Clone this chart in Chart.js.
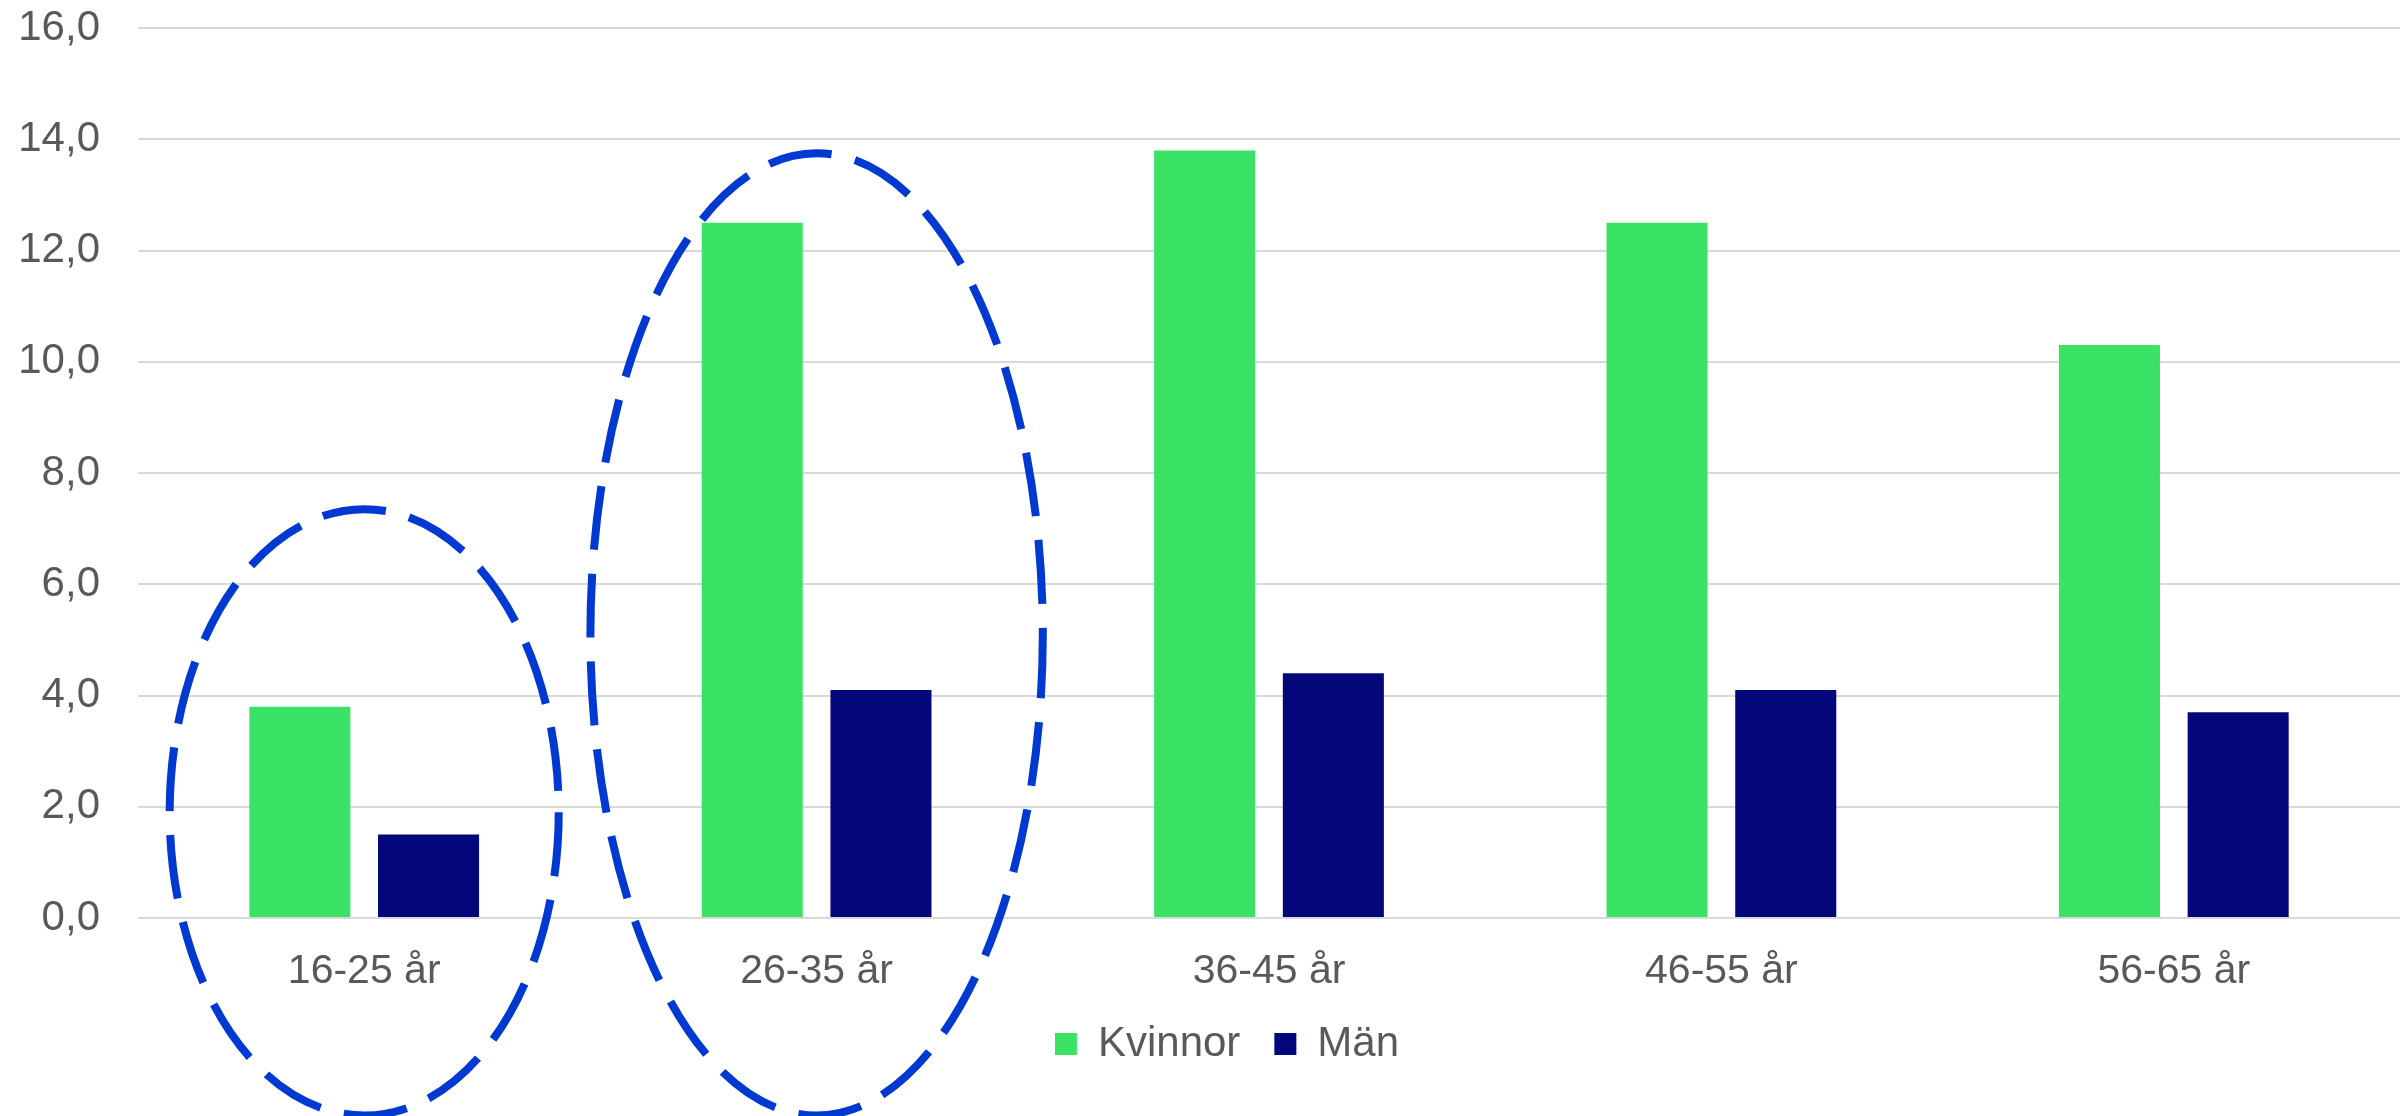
<!DOCTYPE html>
<html>
<head>
<meta charset="utf-8">
<script src="https://cdn.jsdelivr.net/npm/chart.js@4/dist/chart.umd.min.js"></script>
<style>
  html, body { margin: 0; padding: 0; background: #fff; }
  #wrap { width: 2400px; height: 1116px; }
</style>
</head>
<body>
<div id="wrap"><canvas id="chart"></canvas></div>
<script>
// DATA
const categories = ["16-25 år", "26-35 år", "36-45 år", "46-55 år", "56-65 år"];
const kvinnor = [3.8, 12.5, 13.8, 12.5, 10.3];
const man = [1.5, 4.1, 4.4, 4.1, 3.7];
const yTicks = [0, 2, 4, 6, 8, 10, 12, 14, 16];

// dashed rings around the first two groups (category index, centre value, half height in values, half width in categories)
const ringCategory = [0, 1];
const ringCentre = [1.9, 5.1];
const ringHalfHeight = [5.45, 8.65];
const ringHalfWidth = [0.43, 0.5];

Chart.defaults.font.family = "'Liberation Sans', Arial, sans-serif";
Chart.defaults.font.size = 42;
Chart.defaults.color = "#595959";

const rings = {
  id: "rings",
  afterLayout(chart) {
    // nudge legend a bit to the right like the original
    chart.legend.left += 20;
    chart.legend.right += 20;
    // let the x labels spill below the axis box
    chart.scales.x.bottom = chart.height;
  },
  afterDraw(chart) {
    const ctx = chart.ctx;
    const x = chart.scales.x;
    const y = chart.scales.y;
    const catW = x.getPixelForValue(1) - x.getPixelForValue(0);
    const unit = y.getPixelForValue(0) - y.getPixelForValue(1);
    ctx.save();
    ctx.strokeStyle = "#0039d2";
    ctx.lineWidth = 8;
    ctx.setLineDash([64, 24]);
    ringCategory.forEach((c, i) => {
      ctx.beginPath();
      ctx.ellipse(
        x.getPixelForValue(c),
        y.getPixelForValue(ringCentre[i]),
        ringHalfWidth[i] * catW,
        ringHalfHeight[i] * unit,
        0, 0, Math.PI * 2
      );
      ctx.stroke();
    });
    ctx.restore();
  },
};

let ctx = document.getElementById("chart").getContext("2d");
new Chart(ctx, {
  type: "bar",
  data: {
    labels: categories,
    datasets: [
      {
        label: "Kvinnor",
        data: kvinnor,
        backgroundColor: "#3ae366",
        categoryPercentage: 0.569,
        barPercentage: 0.785,
      },
      {
        label: "Män",
        data: man,
        backgroundColor: "#03077a",
        categoryPercentage: 0.569,
        barPercentage: 0.785,
      },
    ],
  },
  options: {
    responsive: true,
    maintainAspectRatio: false,
    devicePixelRatio: 1,
    animation: false,
    layout: { padding: { left: 14, right: 0, top: 28, bottom: 41 } },
    plugins: {
      tooltip: { enabled: false },
      legend: {
        position: "bottom",
        labels: { boxWidth: 22, boxHeight: 22, padding: 34 },
      },
    },
    scales: {
      x: {
        grid: { display: false, drawTicks: false },
        border: { display: false },
        ticks: { padding: 29, font: { size: 41 } },
        afterFit: (axis) => {
          axis.height = 71;
          axis.paddingLeft = 0;
          axis.paddingRight = 0;
        },
      },
      y: {
        min: 0,
        max: 16,
        afterBuildTicks: (axis) => {
          axis.ticks = yTicks.map((v) => ({ value: v }));
        },
        afterFit: (axis) => {
          axis.width = 124;
          axis.paddingTop = 0;
          axis.paddingBottom = 0;
        },
        grid: { color: "#d9d9d9", lineWidth: 2, drawTicks: false },
        border: { display: false },
        ticks: {
          padding: 38,
          callback: (v) => v.toFixed(1).replace(".", ","),
        },
      },
    },
  },
  plugins: [rings],
});
</script>
</body>
</html>
